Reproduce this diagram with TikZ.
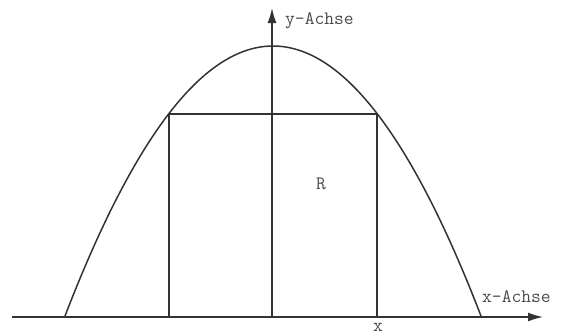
\documentclass[tikz,border=0pt]{standalone}
\usepackage{fontspec}
\usetikzlibrary{arrows.meta}
\begin{document}
\begin{tikzpicture}[x=1pt,y=-1pt,
  line/.style={draw=black!80,line width=1.5pt},
  axis/.style={line,-{Latex[length=15pt,width=9pt]}},
  lbl/.style={font=\ttfamily\fontsize{19}{19}\selectfont,text=black!70,inner sep=0pt}]
\useasboundingbox (0,0) rectangle (561,335);
\coordinate (xs) at (12,317);
\coordinate (xe) at (543,317);
\coordinate (o) at (272,317);
\coordinate (ye) at (272,8);
\coordinate (bl) at (169,317);
\coordinate (tl) at (169,114);
\coordinate (tr) at (377,114);
\coordinate (br) at (377,317);
\draw[line] plot[domain=65:481,samples=120,smooth] (\x,{316-270*(1-((\x-273)/208)^2)});
\draw[axis] (xs) -- (xe);
\draw[axis] (o) -- (ye);
\draw[line] (bl) -- (tl) -- (tr) -- (br);
\node[lbl,anchor=base west] (ylab) at (285,24) {y-Achse};
\node[lbl,anchor=base west] (xlab) at (482,302) {x-Achse};
\node[lbl,anchor=base] (rlab) at (321,189) {R};
\node[lbl,anchor=base] (xx) at (378,331) {x};
\end{tikzpicture}
\end{document}
